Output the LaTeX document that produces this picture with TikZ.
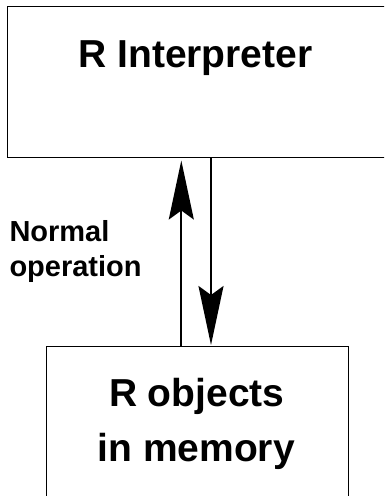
\documentclass[tikz,border=0pt]{standalone}
\usepackage{fontspec}
\setmainfont{Liberation Sans}
\usetikzlibrary{arrows.meta}
\begin{document}
\begin{tikzpicture}[x=1pt,y=-1pt,
  box/.style={draw, line width=1pt, inner sep=0pt, anchor=north west},
  flow/.style={line width=2pt, -{Stealth[length=59pt,width=25pt,inset=9pt]}},
  title/.style={font=\bfseries\fontsize{39}{47}\selectfont, anchor=base, inner sep=0pt},
  side/.style={font=\bfseries\fontsize{29}{35}\selectfont, anchor=base west, inner sep=0pt}]
\useasboundingbox (0,0) rectangle (384,496);
\clip (0,0) rectangle (384,496);
% the two boxes
\node[box, minimum width=400pt, minimum height=151pt] (interp) at (7,6) {};
\node[box, minimum width=302pt, minimum height=200pt] (objs) at (45.5,346) {};
% box texts
\node[title] (interpText) at (195.5,67) {R Interpreter};
\node[title] (objsLineA) at (196.8,406.5) {R objects};
\node[title] (objsLineB) at (196.2,461.5) {in memory};
% side label
\node[side] (normal) at (9.3,241.7) {Normal};
\node[side] (operation) at (9.3,276.7) {operation};
% arrows between the boxes
\coordinate (upx) at (181.3,0);
\coordinate (downx) at (211,0);
\draw[flow] (objs.north -| upx) -- ([yshift=-2.5pt]interp.south -| upx);
\draw[flow] (interp.south -| downx) -- ([yshift=1pt]objs.north -| downx);
\end{tikzpicture}
\end{document}
